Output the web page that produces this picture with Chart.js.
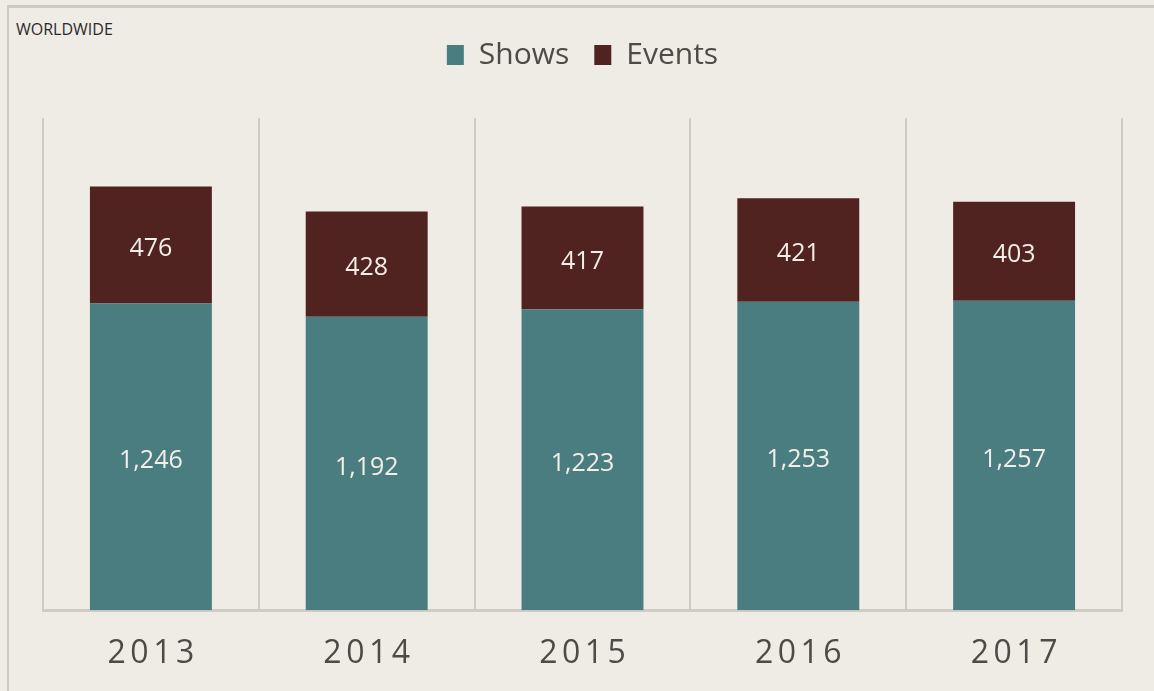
<!DOCTYPE html>
<html>
<head>
<meta charset="utf-8">
<script src="https://cdn.jsdelivr.net/npm/chart.js@4.4.1/dist/chart.umd.min.js"></script>
<style>
  html, body { margin: 0; padding: 0; background: #efebe5; overflow: hidden; }
  #wrap { position: relative; width: 1154px; height: 691px; }
  #frame { position: absolute; left: 7px; top: 5px; right: -10px; bottom: -10px;
           border-top: 3px solid #cdc9c3; border-left: 2px solid #cdc9c3; }
  #region { position: absolute; left: 16px; top: 21px; font: 16px "Open Sans", sans-serif;
            line-height: 16px; color: #2b2a28; }
  canvas { position: absolute; left: 0; top: 0; }
</style>
</head>
<body>
<div id="wrap">
  <div id="frame"></div>
  <div id="region">WORLDWIDE</div>
  <canvas id="showsChart" width="1154" height="691"></canvas>
</div>
<script>
// hodnoty odčítané z obrázka
const years = ['2013', '2014', '2015', '2016', '2017'];
const shows = [1246, 1192, 1223, 1253, 1257];
const events = [476, 428, 417, 421, 403];

const textColor = '#4d4b47';
const lineColor = '#cfcbc5';

// čísla vo vnútri stĺpcov
const barLabels = {
    id: 'barLabels',
    afterDatasetsDraw(chart) {
        const ctx = chart.ctx;
        ctx.save();
        ctx.font = '25px "Open Sans", sans-serif';
        ctx.fillStyle = '#f3eee8';
        ctx.textAlign = 'center';
        ctx.textBaseline = 'alphabetic';
        chart.data.datasets.forEach((ds, di) => {
            chart.getDatasetMeta(di).data.forEach((bar, i) => {
                const y = (bar.y + bar.base) / 2 + 11;
                ctx.fillText(ds.data[i].toLocaleString('en-US'), bar.x, y);
            });
        });
        ctx.restore();
    }
};

// popisky osi x s rozostupom písmen
const spacedTicks = {
    id: 'spacedTicks',
    afterDraw(chart) {
        const scale = chart.scales.x;
        const ctx = chart.ctx;
        const spacing = 4.5;
        ctx.save();
        ctx.font = '32px "Open Sans", sans-serif';
        ctx.fillStyle = textColor;
        ctx.textBaseline = 'middle';
        ctx.textAlign = 'left';
        ctx.letterSpacing = spacing + 'px';
        const y = scale.top + scale.options.ticks.padding + 22;
        scale.ticks.forEach((t, i) => {
            const label = years[i];
            const w = ctx.measureText(label).width - spacing;
            ctx.fillText(label, scale.getPixelForTick(i) - w / 2, y);
        });
        ctx.restore();
    }
};

const ctx = document.getElementById('showsChart').getContext('2d');
const chart = new Chart(ctx, {
    type: 'bar',
    data: {
        labels: years,
        datasets: [{
            label: 'Shows',
            data: shows,
            backgroundColor: '#4a7d80',
            borderWidth: 0,
            categoryPercentage: 1,
            barPercentage: 0.565
        }, {
            label: 'Events',
            data: events,
            backgroundColor: '#502220',
            borderWidth: 0,
            categoryPercentage: 1,
            barPercentage: 0.565
        }]
    },
    options: {
        responsive: false,
        animation: false,
        layout: { padding: { left: 43, right: 32, top: 15, bottom: 0 } },
        plugins: {
            legend: {
                position: 'top',
                labels: {
                    boxWidth: 17,
                    boxHeight: 20,
                    padding: 25,
                    color: textColor,
                    font: { family: '"Open Sans", sans-serif', size: 30, weight: '500' }
                }
            },
            // prázdny podtitulok len ako medzera pod legendou
            subtitle: {
                display: true,
                text: '',
                weight: 500,
                font: { size: 10, lineHeight: 1 },
                padding: { top: 28, bottom: 0 }
            },
            tooltip: { enabled: false }
        },
        scales: {
            x: {
                stacked: true,
                grid: { color: lineColor, lineWidth: 2, drawTicks: false, offset: true },
                border: { color: lineColor, width: 3 },
                ticks: {
                    color: 'rgba(0,0,0,0)',
                    padding: 22,
                    font: { family: '"Open Sans", sans-serif', size: 32, lineHeight: 1.15 }
                }
            },
            y: {
                stacked: true,
                display: false,
                min: 0,
                max: 2000
            }
        }
    },
    plugins: [barLabels, spacedTicks]
});
</script>
</body>
</html>
